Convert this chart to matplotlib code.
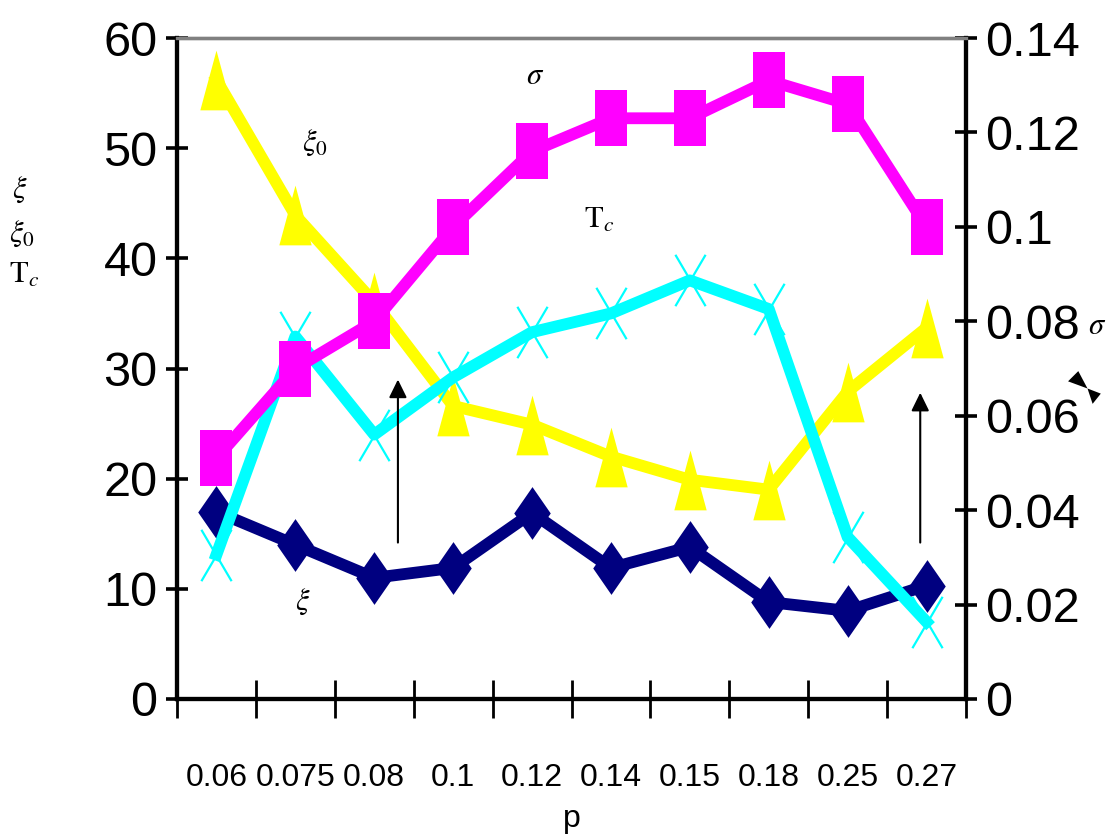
import matplotlib
matplotlib.use("Agg")
import matplotlib.pyplot as plt
from matplotlib.path import Path
from matplotlib.lines import Line2D
import numpy as np

plt.rcParams['mathtext.fontset'] = 'stix'

# ---- data ----
p_labels = ["0.06", "0.075", "0.08", "0.1", "0.12", "0.14", "0.15", "0.18", "0.25", "0.27"]
xi = [17.0, 14.0, 11.0, 11.9, 16.9, 11.9, 13.8, 8.8, 8.0, 10.3]
xi0 = [56.2, 43.9, 36.0, 26.6, 24.9, 22.0, 19.9, 19.0, 27.9, 33.7]
Tc = [13.1, 32.9, 24.0, 29.2, 33.3, 35.0, 38.0, 35.4, 14.7, 7.0]
sigma = [0.051, 0.070, 0.080, 0.100, 0.116, 0.123, 0.123, 0.131, 0.126, 0.100]
left_ticks = [0, 10, 20, 30, 40, 50, 60]
right_ticks = [0, 0.02, 0.04, 0.06, 0.08, 0.10, 0.12, 0.14]

# ---- marker shapes (tall, as in the reference) ----
sq = Path([(-0.286, -0.5), (0.286, -0.5), (0.286, 0.5), (-0.286, 0.5), (-0.286, -0.5)],
          [Path.MOVETO, Path.LINETO, Path.LINETO, Path.LINETO, Path.CLOSEPOLY])
dia = Path([(0, -0.5), (0.346, 0), (0, 0.5), (-0.346, 0), (0, -0.5)],
           [Path.MOVETO, Path.LINETO, Path.LINETO, Path.LINETO, Path.CLOSEPOLY])
tri = Path([(0, 0.5), (0.271, -0.5), (-0.271, -0.5), (0, 0.5)],
           [Path.MOVETO, Path.LINETO, Path.LINETO, Path.CLOSEPOLY])
xm = Path([(-0.294, -0.5), (0.294, 0.5), (-0.294, 0.5), (0.294, -0.5)],
          [Path.MOVETO, Path.LINETO, Path.MOVETO, Path.LINETO])
bow = Path([(0, 0), (-19, 7), (-9, 17), (0, 0), (0, 0), (13, -5), (5, -15), (0, 0)],
           [Path.MOVETO, Path.LINETO, Path.LINETO, Path.CLOSEPOLY,
            Path.MOVETO, Path.LINETO, Path.LINETO, Path.CLOSEPOLY])

W, H = 1112, 834
fig = plt.figure(figsize=(W / 100, H / 100), dpi=100)
L, R, T, B = 177, 966, 38, 699
ax = fig.add_axes([L / W, 1 - B / H, (R - L) / W, (B - T) / H])
ax2 = ax.twinx()

x = np.arange(len(p_labels))
lw = 8.5
ax.plot(x, xi, color='#000080', lw=lw, marker=dia, ms=38, mew=0, zorder=3)
ax.plot(x, xi0, color='#FFFF00', lw=lw, marker=tri, ms=43, mew=0, zorder=4)
ax.plot(x, Tc, color='#00FFFF', lw=lw, marker=xm, ms=37, mew=1.6,
        mec='#00FFFF', mfc='none', zorder=5)
ax2.plot(x, sigma, color='#FF00FF', lw=lw, marker=sq, ms=40.5, mew=0, zorder=6)

ax.set_xlim(-0.5, len(p_labels) - 0.5)
ax.set_ylim(0, 60)
ax2.set_ylim(0, 0.14)

narrow = ['Liberation Sans Narrow', 'DejaVu Sans Condensed', 'Liberation Sans']
ax.set_yticks(left_ticks)
ax.set_yticklabels([str(v) for v in left_ticks], family=narrow, fontsize=35)
ax2.set_yticks(right_ticks)
ax2.set_yticklabels(['0' if v == 0 else ('%g' % v) for v in right_ticks], family=narrow, fontsize=35)
ax.tick_params(axis='y', direction='inout', length=16, width=2.6, pad=6)
ax2.tick_params(axis='y', direction='inout', length=16, width=2.6, pad=6)

ax.set_xticks(x)
ax.set_xticklabels(p_labels, family='Liberation Sans', fontsize=23)
ax.set_xticks(np.arange(-0.5, len(p_labels), 1.0), minor=True)
ax.tick_params(axis='x', which='major', length=0, pad=46)
ax.tick_params(axis='x', which='minor', direction='inout', length=27, width=2.0)
ax.set_xlabel('p', family='Liberation Sans', fontsize=23, labelpad=8)

for a in (ax, ax2):
    for s in ('left', 'right', 'bottom'):
        a.spines[s].set_color('black')
        a.spines[s].set_linewidth(3.0)
    a.spines['top'].set_color('#808080')
    a.spines['top'].set_linewidth(2.4)
    a.set_facecolor('none')

# in-plot labels
tfs = 22
ax.text(4.04, 56.6, r'$\sigma$', fontsize=tfs, ha='center', va='center')
ax.text(1.25, 50.5, r'$\xi_{\mathrm{0}}$', fontsize=tfs, ha='center', va='center')
ax.text(4.85, 43.5, r'$\mathrm{T}_c$', fontsize=tfs, ha='center', va='center')
ax.text(1.1, 8.8, r'$\xi$', fontsize=tfs, ha='center', va='center')

# side labels
fig.text(20 / W, 1 - 190 / H, r'$\xi$', fontsize=tfs, ha='center', va='center')
fig.text(22 / W, 1 - 234 / H, r'$\xi_{\mathrm{0}}$', fontsize=tfs, ha='center', va='center')
fig.text(24 / W, 1 - 275 / H, r'$\mathrm{T}_c$', fontsize=tfs, ha='center', va='center')
fig.text(1097 / W, 1 - 325 / H, r'$\sigma$', fontsize=tfs, ha='center', va='center')
fig.add_artist(Line2D([1087 / W], [1 - 388 / H], transform=fig.transFigure,
                      marker=bow, ms=28, mew=0, color='black', linestyle='none'))

# arrows
arrow_kw = dict(arrowstyle='-|>,head_length=0.55,head_width=0.27', color='black',
                lw=1.5, mutation_scale=20, shrinkA=0, shrinkB=0)
ax.annotate('', xy=(2.30, 29.0), xytext=(2.30, 14.2), arrowprops=arrow_kw, zorder=8)
ax.annotate('', xy=(8.92, 27.8), xytext=(8.92, 14.2), arrowprops=arrow_kw, zorder=8)

fig.savefig('out.png', dpi=100, facecolor='white')
